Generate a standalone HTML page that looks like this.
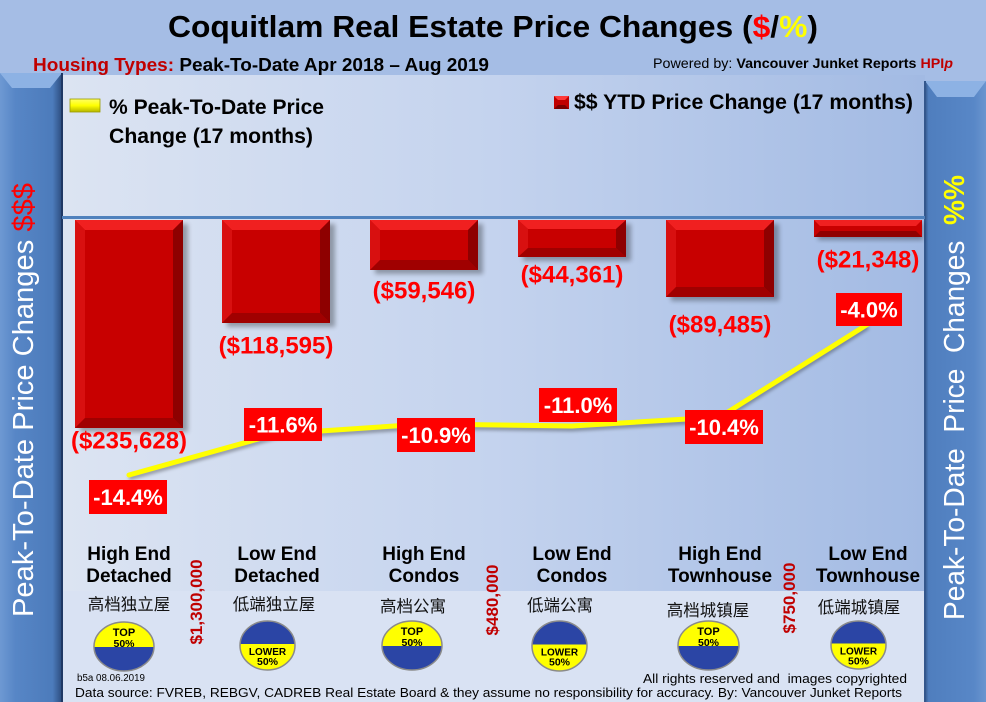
<!DOCTYPE html>
<html><head><meta charset="utf-8"><style>
html,body{margin:0;padding:0;background:#A5BDE5;}
svg{display:block;}
text{font-family:"Liberation Sans","Noto Sans CJK SC",sans-serif;}
</style></head><body>
<svg width="986" height="702" viewBox="0 0 986 702" xmlns="http://www.w3.org/2000/svg">
<defs>
<linearGradient id="chartbg" x1="0" y1="0" x2="1" y2="0">
<stop offset="0" stop-color="#DCE4F2"/><stop offset="0.5" stop-color="#C4D3EE"/><stop offset="1" stop-color="#A2BAE3"/>
</linearGradient>
<linearGradient id="lp" x1="0" y1="0" x2="1" y2="0">
<stop offset="0" stop-color="#6E99D3"/><stop offset="0.25" stop-color="#5786C6"/><stop offset="0.85" stop-color="#4C7BBB"/><stop offset="1" stop-color="#2C4C7E"/>
</linearGradient>
<linearGradient id="rp" x1="0" y1="0" x2="1" y2="0">
<stop offset="0" stop-color="#34578C"/><stop offset="0.06" stop-color="#4F7EBE"/><stop offset="0.8" stop-color="#5887C7"/><stop offset="1" stop-color="#6A95CF"/>
</linearGradient>
<linearGradient id="ylw" x1="0" y1="0" x2="0" y2="1">
<stop offset="0" stop-color="#FFFF66"/><stop offset="0.5" stop-color="#FFFF00"/><stop offset="1" stop-color="#B5B500"/>
</linearGradient>
<filter id="sh" x="-10%" y="-10%" width="130%" height="130%"><feGaussianBlur stdDeviation="2.5"/></filter>
<filter id="lsh" x="-5%" y="-20%" width="110%" height="140%"><feGaussianBlur stdDeviation="1.5"/></filter>
<clipPath id="c1"><ellipse cx="124" cy="646.5" rx="30" ry="24.5"/></clipPath>
<clipPath id="c2"><ellipse cx="267.5" cy="645.5" rx="27.5" ry="24.5"/></clipPath>
<clipPath id="c3"><ellipse cx="412" cy="645.5" rx="30" ry="24.5"/></clipPath>
<clipPath id="c4"><ellipse cx="559.5" cy="646" rx="27.5" ry="25"/></clipPath>
<clipPath id="c5"><ellipse cx="708.5" cy="645.5" rx="30.5" ry="24.5"/></clipPath>
<clipPath id="c6"><ellipse cx="858.5" cy="645" rx="27.5" ry="24"/></clipPath>
</defs>

<!-- backgrounds -->
<rect x="0" y="0" width="986" height="702" fill="#A5BDE5"/>
<rect x="62" y="75" width="863" height="516" fill="url(#chartbg)"/>
<rect x="62" y="591" width="863" height="111" fill="#D9E2F3"/>

<!-- title -->
<text x="168" y="37" font-size="31" font-weight="bold" fill="#000" textLength="650" lengthAdjust="spacingAndGlyphs">Coquitlam Real Estate Price Changes (<tspan fill="#FF0000">$</tspan>/<tspan fill="#FFFF00">%</tspan>)</text>
<text x="33" y="71" font-size="18" font-weight="bold" fill="#000" textLength="456" lengthAdjust="spacingAndGlyphs"><tspan fill="#C00000">Housing Types:</tspan> Peak-To-Date Apr 2018 – Aug 2019</text>
<text x="653" y="68" font-size="14" fill="#000" textLength="300" lengthAdjust="spacingAndGlyphs">Powered by: <tspan font-weight="bold">Vancouver Junket Reports </tspan><tspan font-weight="bold" fill="#C00000">HPI</tspan><tspan font-weight="bold" font-style="italic" fill="#C00000">p</tspan></text>

<!-- left panel -->
<rect x="0" y="73" width="62" height="629" fill="url(#lp)"/>
<polygon points="0,73 62,73 50,88 12,88" fill="#8DB2E4"/>
<rect x="61" y="73" width="2" height="629" fill="#1F3864"/>
<text transform="translate(33,617) rotate(-90)" font-size="29" fill="#FFFFFF" textLength="434" lengthAdjust="spacingAndGlyphs">Peak-To-Date Price Changes <tspan fill="#FF0000">$$$</tspan></text>

<!-- right panel -->
<rect x="925" y="81" width="61" height="621" fill="url(#rp)"/>
<polygon points="925,81 986,81 974,97 937,97" fill="#8DB2E4"/>
<rect x="924" y="81" width="2" height="621" fill="#34578C"/>
<text transform="translate(964,620) rotate(-90)" font-size="29" fill="#FFFFFF" textLength="445" lengthAdjust="spacingAndGlyphs" style="white-space:pre">Peak-To-Date  Price  Changes  <tspan fill="#FFFF00" font-weight="bold">%%</tspan></text>

<!-- legends -->
<rect x="70" y="99" width="30" height="13" fill="url(#ylw)" stroke="#9A9A00" stroke-width="0.8"/>
<text x="109" y="114" font-size="21" font-weight="bold" fill="#000" textLength="215" lengthAdjust="spacingAndGlyphs">% Peak-To-Date Price</text>
<text x="109" y="143" font-size="21" font-weight="bold" fill="#000" textLength="204" lengthAdjust="spacingAndGlyphs">Change (17 months)</text>
<rect x="554" y="96" width="15" height="13" fill="#C00000"/>
<polygon points="554,96 569,96 565,100 558,100" fill="#FF3A3A"/>
<polygon points="554,109 569,109 565,105 558,105" fill="#7A0000"/>
<text x="574" y="109" font-size="21.5" font-weight="bold" fill="#000" textLength="339" lengthAdjust="spacingAndGlyphs">$$ YTD Price Change (17 months)</text>

<!-- axis line -->
<rect x="62" y="216" width="863" height="3" fill="#4F81BD"/>

<!-- bars -->
<g>
<rect x="80" y="224" width="108" height="208" fill="#000" opacity="0.3" filter="url(#sh)"/>
<rect x="75" y="220" width="108" height="208" fill="#C80000"/>
<polygon points="75,220 183,220 173,230 85,230" fill="#F02020"/>
<polygon points="75,220 85,230 85,418 75,428" fill="#D81010"/>
<polygon points="183,220 173,230 173,418 183,428" fill="#8E0000"/>
<polygon points="75,428 85,418 173,418 183,428" fill="#A00000"/>

<rect x="227" y="224" width="108" height="103" fill="#000" opacity="0.3" filter="url(#sh)"/>
<rect x="222" y="220" width="108" height="103" fill="#C80000"/>
<polygon points="222,220 330,220 320,230 232,230" fill="#F02020"/>
<polygon points="222,220 232,230 232,313 222,323" fill="#D81010"/>
<polygon points="330,220 320,230 320,313 330,323" fill="#8E0000"/>
<polygon points="222,323 232,313 320,313 330,323" fill="#A00000"/>

<rect x="375" y="224" width="108" height="50" fill="#000" opacity="0.3" filter="url(#sh)"/>
<rect x="370" y="220" width="108" height="50" fill="#C80000"/>
<polygon points="370,220 478,220 468,230 380,230" fill="#F02020"/>
<polygon points="370,220 380,230 380,260 370,270" fill="#D81010"/>
<polygon points="478,220 468,230 468,260 478,270" fill="#8E0000"/>
<polygon points="370,270 380,260 468,260 478,270" fill="#A00000"/>

<rect x="523" y="224" width="108" height="37" fill="#000" opacity="0.3" filter="url(#sh)"/>
<rect x="518" y="220" width="108" height="37" fill="#C80000"/>
<polygon points="518,220 626,220 616,229 528,229" fill="#F02020"/>
<polygon points="518,220 528,229 528,248 518,257" fill="#D81010"/>
<polygon points="626,220 616,229 616,248 626,257" fill="#8E0000"/>
<polygon points="518,257 528,248 616,248 626,257" fill="#A00000"/>

<rect x="671" y="224" width="108" height="77" fill="#000" opacity="0.3" filter="url(#sh)"/>
<rect x="666" y="220" width="108" height="77" fill="#C80000"/>
<polygon points="666,220 774,220 764,230 676,230" fill="#F02020"/>
<polygon points="666,220 676,230 676,287 666,297" fill="#D81010"/>
<polygon points="774,220 764,230 764,287 774,297" fill="#8E0000"/>
<polygon points="666,297 676,287 764,287 774,297" fill="#A00000"/>

<rect x="818" y="223" width="105" height="17" fill="#000" opacity="0.3" filter="url(#sh)"/>
<rect x="814" y="220" width="108" height="17" fill="#C80000"/>
<polygon points="814,220 922,220 916,226 820,226" fill="#F02020"/>
<polygon points="814,237 820,231 916,231 922,237" fill="#900000"/>
</g>

<!-- dollar labels -->
<g font-size="24" font-weight="bold" fill="#FF0000" text-anchor="middle">
<text x="129" y="448.5">($235,628)</text>
<text x="276" y="353.5">($118,595)</text>
<text x="424" y="298.5">($59,546)</text>
<text x="572" y="282.5">($44,361)</text>
<text x="720" y="332.5">($89,485)</text>
<text x="868" y="267.5">($21,348)</text>
</g>

<!-- yellow line -->
<polyline points="129,478 276,437 424,427 572,429 720,420 868,327" fill="none" stroke="#000" stroke-opacity="0.3" stroke-width="5" filter="url(#lsh)"/>
<polyline points="129,475 276,434 424,424 572,426 720,417 868,324" fill="none" stroke="#FFFF00" stroke-width="5" stroke-linejoin="round" stroke-linecap="round"/>

<!-- percent boxes -->
<g fill="#FF0000">
<rect x="89" y="480" width="78" height="34"/>
<rect x="244" y="408" width="78" height="33"/>
<rect x="397" y="418" width="78" height="34"/>
<rect x="539" y="388" width="78" height="34"/>
<rect x="685" y="410" width="78" height="34"/>
<rect x="836" y="293" width="66" height="33"/>
</g>
<g font-size="22" font-weight="bold" fill="#FFFFFF" text-anchor="middle">
<text x="128" y="505">-14.4%</text>
<text x="283" y="432.5">-11.6%</text>
<text x="436" y="443">-10.9%</text>
<text x="578" y="413">-11.0%</text>
<text x="724" y="435">-10.4%</text>
<text x="869" y="317.5">-4.0%</text>
</g>

<!-- category labels -->
<g font-size="19" font-weight="bold" fill="#000" text-anchor="middle">
<text x="129" y="560">High End</text><text x="129" y="582">Detached</text>
<text x="277" y="560">Low End</text><text x="277" y="582">Detached</text>
<text x="424" y="560">High End</text><text x="424" y="582">Condos</text>
<text x="572" y="560">Low End</text><text x="572" y="582">Condos</text>
<text x="720" y="560">High End</text><text x="720" y="582">Townhouse</text>
<text x="868" y="560">Low End</text><text x="868" y="582">Townhouse</text>
</g>
<g font-size="16.5" fill="#111" text-anchor="middle" style="font-family:'Noto Sans CJK SC',sans-serif;">
<text x="129" y="610">高档独立屋</text>
<text x="274" y="610">低端独立屋</text>
<text x="413" y="612">高档公寓</text>
<text x="560" y="611">低端公寓</text>
<text x="708" y="616">高档城镇屋</text>
<text x="859" y="613">低端城镇屋</text>
</g>

<!-- vertical price labels -->
<g font-size="17" font-weight="bold" fill="#C00000" text-anchor="middle">
<text transform="translate(202,602) rotate(-90)">$1,300,000</text>
<text transform="translate(498,600) rotate(-90)">$480,000</text>
<text transform="translate(795,598) rotate(-90)">$750,000</text>
</g>

<!-- badges -->
<g>
<g clip-path="url(#c1)"><rect x="90" y="600" width="70" height="47" fill="#FFFF00"/><rect x="90" y="647" width="70" height="30" fill="#2B45A5"/></g>
<ellipse cx="124" cy="646.5" rx="30" ry="24.5" fill="none" stroke="#8A8A8A" stroke-width="1.5"/>
<text x="124" y="636" font-size="11" font-weight="bold" text-anchor="middle" fill="#000">TOP</text>
<text x="124" y="647" font-size="10.5" font-weight="bold" text-anchor="middle" fill="#000">50%</text>

<g clip-path="url(#c2)"><rect x="235" y="600" width="70" height="44" fill="#2B45A5"/><rect x="235" y="644" width="70" height="30" fill="#FFFF00"/></g>
<ellipse cx="267.5" cy="645.5" rx="27.5" ry="24.5" fill="none" stroke="#8A8A8A" stroke-width="1.5"/>
<text x="267.5" y="655" font-size="10" font-weight="bold" text-anchor="middle" fill="#000">LOWER</text>
<text x="267.5" y="665" font-size="10.5" font-weight="bold" text-anchor="middle" fill="#000">50%</text>

<g clip-path="url(#c3)"><rect x="378" y="600" width="70" height="46" fill="#FFFF00"/><rect x="378" y="646" width="70" height="30" fill="#2B45A5"/></g>
<ellipse cx="412" cy="645.5" rx="30" ry="24.5" fill="none" stroke="#8A8A8A" stroke-width="1.5"/>
<text x="412" y="635" font-size="11" font-weight="bold" text-anchor="middle" fill="#000">TOP</text>
<text x="412" y="646" font-size="10.5" font-weight="bold" text-anchor="middle" fill="#000">50%</text>

<g clip-path="url(#c4)"><rect x="527" y="600" width="70" height="44.5" fill="#2B45A5"/><rect x="527" y="644.5" width="70" height="30" fill="#FFFF00"/></g>
<ellipse cx="559.5" cy="646" rx="27.5" ry="25" fill="none" stroke="#8A8A8A" stroke-width="1.5"/>
<text x="559.5" y="655.5" font-size="10" font-weight="bold" text-anchor="middle" fill="#000">LOWER</text>
<text x="559.5" y="665.5" font-size="10.5" font-weight="bold" text-anchor="middle" fill="#000">50%</text>

<g clip-path="url(#c5)"><rect x="674" y="600" width="70" height="46" fill="#FFFF00"/><rect x="674" y="646" width="70" height="30" fill="#2B45A5"/></g>
<ellipse cx="708.5" cy="645.5" rx="30.5" ry="24.5" fill="none" stroke="#8A8A8A" stroke-width="1.5"/>
<text x="708.5" y="635" font-size="11" font-weight="bold" text-anchor="middle" fill="#000">TOP</text>
<text x="708.5" y="646" font-size="10.5" font-weight="bold" text-anchor="middle" fill="#000">50%</text>

<g clip-path="url(#c6)"><rect x="826" y="600" width="70" height="43.5" fill="#2B45A5"/><rect x="826" y="643.5" width="70" height="30" fill="#FFFF00"/></g>
<ellipse cx="858.5" cy="645" rx="27.5" ry="24" fill="none" stroke="#8A8A8A" stroke-width="1.5"/>
<text x="858.5" y="654.5" font-size="10" font-weight="bold" text-anchor="middle" fill="#000">LOWER</text>
<text x="858.5" y="664.5" font-size="10.5" font-weight="bold" text-anchor="middle" fill="#000">50%</text>
</g>

<!-- footer -->
<text x="77" y="681" font-size="10" fill="#000" textLength="68" lengthAdjust="spacingAndGlyphs">b5a 08.06.2019</text>
<text x="643" y="683" font-size="13" fill="#000" textLength="264" lengthAdjust="spacingAndGlyphs" style="white-space:pre">All rights reserved and  images copyrighted</text>
<text x="75" y="697" font-size="13" fill="#000" textLength="827" lengthAdjust="spacingAndGlyphs">Data source: FVREB, REBGV, CADREB Real Estate Board &amp; they assume no responsibility for accuracy. By: Vancouver Junket Reports</text>
</svg>
</body></html>
